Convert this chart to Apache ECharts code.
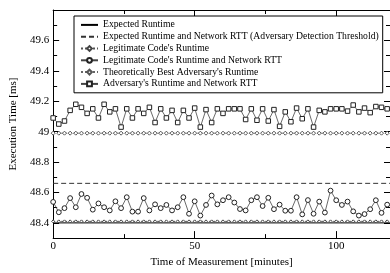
<!DOCTYPE html>
<html>
<head>
<meta charset="utf-8">
<script src="https://cdn.jsdelivr.net/npm/echarts@6/dist/echarts.min.js"></script>
<style>
  html, body { margin: 0; padding: 0; background: #fff; }
  #chart { width: 390px; height: 273px; }
</style>
</head>
<body>
<div id="chart"></div>
<script>
// measurement times [minutes], one sample every 2 minutes
const times = [0, 2, 4, 6, 8, 10, 12, 14, 16, 18, 20, 22, 24, 26, 28, 30, 32, 34, 36, 38,
  40, 42, 44, 46, 48, 50, 52, 54, 56, 58, 60, 62, 64, 66, 68, 70, 72, 74, 76, 78,
  80, 82, 84, 86, 88, 90, 92, 94, 96, 98, 100, 102, 104, 106, 108, 110, 112, 114, 116, 118];

const adversaryRtt = [49.09, 49.05, 49.07, 49.14, 49.18, 49.16, 49.12, 49.15, 49.09, 49.18,
  49.13, 49.15, 49.03, 49.15, 49.09, 49.15, 49.12, 49.16, 49.06, 49.15,
  49.09, 49.14, 49.06, 49.14, 49.09, 49.155, 49.03, 49.145, 49.06, 49.15,
  49.12, 49.15, 49.15, 49.15, 49.08, 49.15, 49.075, 49.15, 49.07, 49.145,
  49.035, 49.13, 49.065, 49.155, 49.085, 49.15, 49.03, 49.14, 49.13, 49.15,
  49.15, 49.15, 49.135, 49.175, 49.13, 49.155, 49.125, 49.165, 49.16, 49.15];

const legitRtt = [48.538, 48.47, 48.497, 48.563, 48.503, 48.59, 48.565, 48.487, 48.528, 48.503,
  48.482, 48.542, 48.497, 48.569, 48.474, 48.474, 48.563, 48.482, 48.522, 48.497,
  48.518, 48.482, 48.503, 48.569, 48.46, 48.542, 48.448, 48.518, 48.58, 48.522,
  48.549, 48.569, 48.534, 48.491, 48.482, 48.549, 48.569, 48.511, 48.565, 48.49,
  48.52, 48.48, 48.48, 48.569, 48.456, 48.55, 48.46, 48.54, 48.468, 48.612,
  48.549, 48.518, 48.54, 48.476, 48.448, 48.458, 48.49, 48.549, 48.466, 48.52];

// constant levels
const expectedRuntime = 48.40;
const expectedRuntimeRtt = 48.66;
const legitRuntime = 48.41;
const theoreticBest = 48.99;

const xMajor = [0, 50, 100];
const xMinor = [25, 75];
const yMajor = [48.4, 48.6, 48.8, 49, 49.2, 49.4, 49.6];

const names = [
  'Expected Runtime',
  'Expected Runtime and Network RTT (Adversary Detection Threshold)',
  "Legitimate Code's Runtime",
  "Legitimate Code's Runtime and Network RTT",
  "Theoretically Best Adversary's Runtime",
  "Adversary's Runtime and Network RTT"
];

const FONT = 'Liberation Serif';
const level = v => times.map(t => [t, v]);
const pairs = arr => times.map((t, i) => [t, arr[i]]);

function xAx(pos, major, withLabels) {
  return {
    type: 'value', position: pos, min: 0, max: 119,
    axisLine: { show: major, onZero: false, lineStyle: { color: '#000', width: 1 } },
    axisTick: major
      ? { inside: true, length: 7, customValues: xMajor, lineStyle: { color: '#000' } }
      : { inside: true, length: 4, customValues: xMinor, lineStyle: { color: '#000' } },
    axisLabel: withLabels
      ? { customValues: xMajor, margin: 3, color: '#000', fontFamily: FONT, fontSize: 11 }
      : { show: false },
    splitLine: { show: false }
  };
}

function yAx(pos, major, withLabels) {
  return {
    type: 'value', position: pos, min: 48.3, max: 49.8,
    interval: major ? null : 0.1,
    axisLine: { show: major, onZero: false, lineStyle: { color: '#000', width: 1 } },
    axisTick: major
      ? { inside: true, length: 6, customValues: yMajor, lineStyle: { color: '#000' } }
      : { inside: true, length: 4, lineStyle: { color: '#000' } },
    axisLabel: withLabels
      ? { customValues: yMajor, margin: 4, color: '#000', fontFamily: FONT, fontSize: 11 }
      : { show: false },
    splitLine: { show: false }
  };
}

const xAxes = [xAx('bottom', true, true), xAx('bottom', false, false), xAx('top', true, false), xAx('top', false, false)];
Object.assign(xAxes[0], {
  name: 'Time of Measurement [minutes]', nameLocation: 'middle', nameGap: 16,
  nameTextStyle: { color: '#000', fontFamily: FONT, fontSize: 11 }
});
const yAxes = [yAx('left', true, true), yAx('left', false, false), yAx('right', true, false), yAx('right', false, false)];
Object.assign(yAxes[0], {
  name: 'Execution Time [ms]', nameLocation: 'middle', nameGap: 28,
  nameTextStyle: { color: '#000', fontFamily: FONT, fontSize: 11 }
});

const lineColor = '#444';
const markColor = '#222';

const chart = echarts.init(document.getElementById('chart'), null, { renderer: 'canvas' });
chart.setOption({
  animation: false,
  backgroundColor: '#fff',
  grid: { left: 47, top: 10, width: 345, height: 240 },
  legend: {
    left: 74, top: 16, orient: 'vertical',
    padding: [3, 4, 3, 6],
    itemWidth: 17, itemHeight: 6, itemGap: 0,
    borderColor: '#000', borderWidth: 1, backgroundColor: '#fff',
    textStyle: { color: '#000', fontFamily: FONT, fontSize: 9.7, lineHeight: 11.8 },
    data: names
  },
  xAxis: xAxes,
  yAxis: yAxes,
  series: [
    {
      name: names[0], type: 'line', symbol: 'none', z: 3,
      lineStyle: { color: '#000', width: 1 },
      itemStyle: { color: '#000', opacity: 0 },
      data: [[0, expectedRuntime], [119, expectedRuntime]]
    },
    {
      name: names[1], type: 'line', symbol: 'none',
      lineStyle: { color: '#333', width: 1, type: [5, 3] },
      itemStyle: { color: '#333', opacity: 0 },
      data: [[0, expectedRuntimeRtt], [119, expectedRuntimeRtt]]
    },
    {
      name: names[2], type: 'line', symbol: 'diamond', symbolSize: 3,
      lineStyle: { color: '#555', width: 1, type: [2, 2] },
      itemStyle: { color: '#fff', borderColor: '#444', borderWidth: 1 },
      data: level(legitRuntime)
    },
    {
      name: names[3], type: 'line', symbol: 'circle', symbolSize: 4.8,
      lineStyle: { color: lineColor, width: 0.8 },
      itemStyle: { color: '#fff', borderColor: markColor, borderWidth: 1 },
      data: pairs(legitRtt)
    },
    {
      name: names[4], type: 'line', symbol: 'diamond', symbolSize: 4,
      lineStyle: { color: '#666', width: 0.8, type: [2, 2] },
      itemStyle: { color: '#fff', borderColor: '#555', borderWidth: 1 },
      data: level(theoreticBest)
    },
    {
      name: names[5], type: 'line', symbol: 'rect', symbolSize: 4.5,
      lineStyle: { color: lineColor, width: 0.8 },
      itemStyle: { color: '#fff', borderColor: markColor, borderWidth: 1 },
      data: pairs(adversaryRtt)
    }
  ]
});
window.addEventListener('resize', chart.resize);
</script>
</body>
</html>
